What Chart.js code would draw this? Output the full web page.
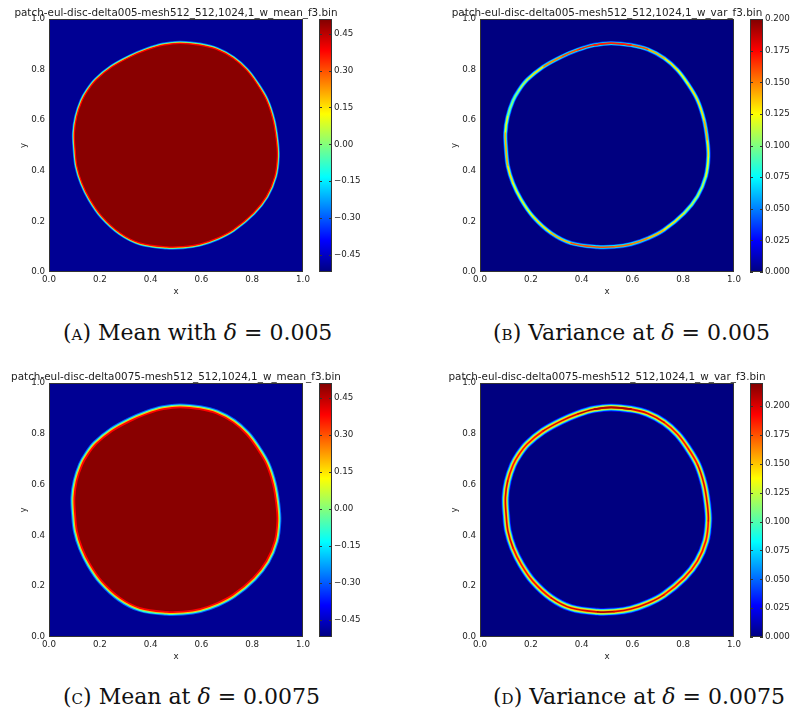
<!DOCTYPE html>
<html>
<head>
<meta charset="utf-8">
<script src="https://cdn.jsdelivr.net/npm/chart.js@4.4.0/dist/chart.umd.min.js"></script>
<style>
  body { margin: 0; background: #fff; width: 793px; height: 716px; position: relative; overflow: hidden; font-family: "DejaVu Sans", sans-serif; }
  canvas { position: absolute; }
  .ttl { position: absolute; font-size: 10.4px; line-height: 12px; color: #222; white-space: nowrap; transform: translateX(-50%); }
  .cap { position: absolute; font-family: "DejaVu Serif", serif; font-size: 22px; line-height: 22px; color: #111; white-space: nowrap; }
  .cap .sc { font-variant: small-caps; }
</style>
</head>
<body>
<script>
// blob boundary (data units), counter-clockwise from the top
const contourX = [0.516, 0.450, 0.385, 0.319, 0.247, 0.186, 0.153, 0.130, 0.109, 0.100, 0.103, 0.110, 0.130, 0.162, 0.208, 0.280,
                  0.359, 0.463, 0.528, 0.594, 0.663, 0.725, 0.804, 0.856, 0.889, 0.899, 0.895, 0.882, 0.856, 0.817, 0.777, 0.725,
                  0.660, 0.594];
const contourY = [0.904, 0.897, 0.878, 0.850, 0.810, 0.760, 0.718, 0.677, 0.614, 0.549, 0.480, 0.417, 0.351, 0.286, 0.220, 0.154,
                  0.114, 0.099, 0.100, 0.110, 0.134, 0.167, 0.233, 0.299, 0.378, 0.457, 0.522, 0.601, 0.680, 0.746, 0.799, 0.845,
                  0.880, 0.897];

// peak variance along the boundary
const varPeakB = [0.17, 0.17, 0.16, 0.15, 0.13, 0.11, 0.10, 0.10, 0.12, 0.14, 0.14, 0.13, 0.12, 0.12, 0.13, 0.14,
                  0.16, 0.16, 0.155, 0.15, 0.14, 0.13, 0.11, 0.11, 0.12, 0.13, 0.14, 0.13, 0.13, 0.12, 0.13, 0.14,
                  0.16, 0.17];
const varPeakD = [0.21, 0.21, 0.20, 0.20, 0.19, 0.19, 0.19, 0.19, 0.20, 0.20, 0.20, 0.20, 0.19, 0.19, 0.19, 0.20,
                  0.20, 0.21, 0.20, 0.20, 0.20, 0.19, 0.19, 0.19, 0.19, 0.20, 0.20, 0.20, 0.19, 0.19, 0.19, 0.20,
                  0.20, 0.21];

const meanOutside = -0.50;
const meanInside = 0.50;
const meanEdge = [-0.30, -0.08, 0.18, 0.38];
const varEdgeB = [0.035, 0.070];
const varEdgeD = [0.030, 0.070, 0.120, 0.150];

const axisTicks = [0.0, 0.2, 0.4, 0.6, 0.8, 1.0];
const meanTicks = [-0.45, -0.30, -0.15, 0.00, 0.15, 0.30, 0.45];
const varTicks = [0.000, 0.025, 0.050, 0.075, 0.100, 0.125, 0.150, 0.175, 0.200];
const meanRange = [-0.52, 0.51];
const varRangeB = [0.0, 0.20];
const varRangeD = [0.0, 0.22];

const titles = [
  'patch-eul-disc-delta005-mesh512_512,1024,1_w_mean_f3.bin',
  'patch-eul-disc-delta005-mesh512_512,1024,1_w_var_f3.bin',
  'patch-eul-disc-delta0075-mesh512_512,1024,1_w_mean_f3.bin',
  'patch-eul-disc-delta0075-mesh512_512,1024,1_w_var_f3.bin'
];
const captions = [
  ['a', 'Mean with'], ['b', 'Variance at'], ['c', 'Mean at'], ['d', 'Variance at']
];
const captionDelta = ['0.005', '0.005', '0.0075', '0.0075'];

const TXT = '#222';
const FONT = { family: 'DejaVu Sans', size: 8.7 };

function jet(t) {
  t = Math.max(0, Math.min(1, t));
  const c = v => Math.round(255 * Math.max(0, Math.min(1, v)));
  return `rgb(${c(1.5 - Math.abs(4 * t - 3))},${c(1.5 - Math.abs(4 * t - 2))},${c(1.5 - Math.abs(4 * t - 1))})`;
}

const wrap = a => [a[a.length - 1], ...a, a[0], a[1]];
const contourData = () => wrap(contourX.map((x, i) => ({ x, y: contourY[i] })));

function ring(color, width, extra) {
  return Object.assign({
    data: contourData(), borderColor: color, borderWidth: width, pointRadius: 0,
    tension: 0.35, fill: false, borderJoinStyle: 'round', borderCapStyle: 'round'
  }, extra || {});
}

const panels = [
  { L: 49, T: 19, R: 303, B: 272, cb: 319, kind: 'mean', widths: [5, 3.6, 2.2, 1.2], range: meanRange, ticks: meanTicks, dig: 2 },
  { L: 480, T: 19, R: 734, B: 272, cb: 750, kind: 'var', edge: varEdgeB, widths: [4.6, 3.2, 1.6], peaks: varPeakB, range: varRangeB, ticks: varTicks, dig: 3 },
  { L: 49, T: 383, R: 303, B: 637, cb: 319, kind: 'mean', widths: [8, 6, 3.8, 1.8], range: meanRange, ticks: meanTicks, dig: 2 },
  { L: 480, T: 383, R: 734, B: 637, cb: 750, kind: 'var', edge: varEdgeD, widths: [8, 6.4, 4.6, 3.0, 1.6], peaks: varPeakD, range: varRangeD, ticks: varTicks, dig: 3 }
];

const fmt = (v, d) => (v < -1e-9 ? '\u2212' : '') + Math.abs(v).toFixed(d);

const framePlugin = {
  id: 'frame',
  beforeDatasetsDraw(chart, args, opts) {
    if (!opts.bg) return;
    const a = chart.chartArea, c = chart.ctx;
    c.save(); c.fillStyle = opts.bg; c.fillRect(a.left, a.top, a.right - a.left, a.bottom - a.top); c.restore();
  },
  afterDraw(chart, args, opts) {
    const a = chart.chartArea, c = chart.ctx;
    c.save();
    c.strokeStyle = '#333'; c.lineWidth = 1;
    c.strokeRect(Math.round(a.left) + 0.5, Math.round(a.top) + 0.5, Math.round(a.right - a.left) - 1, Math.round(a.bottom - a.top) - 1);
    if (opts.cbTicks) {
      const s = chart.scales.y;
      s.ticks.forEach(t => {
        const y = Math.round(s.getPixelForValue(t.value)) + 0.5;
        c.beginPath();
        c.moveTo(a.left, y); c.lineTo(a.left + 3, y);
        c.moveTo(a.right, y); c.lineTo(a.right - 3, y);
        c.stroke();
      });
    }
    c.restore();
  }
};

function addCanvas(left, top, w, h) {
  const cv = document.createElement('canvas');
  cv.width = w; cv.height = h;
  cv.style.left = left + 'px'; cv.style.top = top + 'px';
  cv.style.width = w + 'px'; cv.style.height = h + 'px';
  document.body.appendChild(cv);
  return cv;
}

function makeMain(p) {
  const w = (p.R - p.L) + 49 + 12, h = (p.B - p.T) + 19 + 28;
  const cv = addCanvas(p.L - 49, p.T - 19, w, h);
  const norm = v => (v - p.range[0]) / (p.range[1] - p.range[0]);
  const ds = [];
  let bg;
  if (p.kind === 'mean') {
    bg = jet(norm(meanOutside));
    for (let i = 0; i < 3; i++) ds.push(ring(jet(norm(meanEdge[i])), p.widths[i]));
    ds.push(ring('rgba(0,0,0,0)', 0, { fill: 'shape', backgroundColor: jet(norm(meanInside)) }));
    ds.push(ring(jet(norm(meanEdge[3])), p.widths[3]));
  } else {
    bg = jet(0);
    p.edge.forEach((v, i) => ds.push(ring(jet(norm(v)), p.widths[i])));
    const pk = wrap(p.peaks);
    ds.push(ring(jet(norm(p.peaks[0])), p.widths[p.widths.length - 1], {
      segment: { borderColor: ctx => jet(norm(pk[ctx.p0DataIndex])) }
    }));
  }
  ds.forEach((d, i) => { d.order = ds.length - i; });

  new Chart(cv, {
    type: 'line',
    data: { datasets: ds },
    plugins: [framePlugin],
    options: {
      responsive: false, animation: false, events: [],
      layout: { padding: { top: 19, right: 12, left: 0, bottom: 0 } },
      plugins: { legend: { display: false }, tooltip: { enabled: false }, frame: { bg } },
      scales: {
        x: {
          type: 'linear', min: 0, max: 1,
          afterBuildTicks: s => { s.ticks = axisTicks.map(v => ({ value: v })); },
          afterFit: s => { s.height = 28; },
          grid: { display: false, drawTicks: false }, border: { display: false },
          ticks: { padding: 3, color: TXT, font: FONT, maxRotation: 0, autoSkip: false, callback: v => v.toFixed(1) },
          title: { display: true, text: 'x', color: TXT, font: FONT, padding: { top: 0, bottom: 2.8 } }
        },
        y: {
          type: 'linear', min: 0, max: 1,
          afterBuildTicks: s => { s.ticks = axisTicks.map(v => ({ value: v })); },
          afterFit: s => { s.width = 49; },
          grid: { display: false, drawTicks: false }, border: { display: false },
          ticks: { padding: 4, color: TXT, font: FONT, autoSkip: false, callback: v => v.toFixed(1) },
          title: { display: true, text: 'y', color: TXT, font: FONT, padding: { top: 18.8, bottom: 0 } }
        }
      }
    }
  });
}

function makeBar(p) {
  const h = (p.B - p.T) + 19 + 28;
  const cv = addCanvas(p.cb, p.T - 19, 58, h);
  const lo = p.range[0], hi = p.range[1];
  new Chart(cv, {
    type: 'bar',
    data: {
      labels: [''],
      datasets: [{
        data: [[lo, hi]], barPercentage: 1, categoryPercentage: 1, borderWidth: 0,
        backgroundColor: ctx => {
          const a = ctx.chart.chartArea;
          if (!a) return 'rgba(0,0,0,0)';
          const g = ctx.chart.ctx.createLinearGradient(0, a.bottom, 0, a.top);
          [0, 0.125, 0.375, 0.625, 0.875, 1].forEach(t => g.addColorStop(t, jet(t)));
          return g;
        }
      }]
    },
    plugins: [framePlugin],
    options: {
      responsive: false, animation: false, events: [],
      layout: { padding: { top: 19, bottom: 28, left: 0, right: 0 } },
      plugins: { legend: { display: false }, tooltip: { enabled: false }, frame: { cbTicks: true } },
      scales: {
        x: { display: false },
        y: {
          position: 'right', min: lo, max: hi,
          afterBuildTicks: s => { s.ticks = p.ticks.filter(v => v <= hi + 1e-9).map(v => ({ value: v })); },
          afterFit: s => { s.width = 45; },
          grid: { drawOnChartArea: false, drawTicks: false }, border: { display: false },
          ticks: { padding: 2, color: TXT, font: FONT, autoSkip: false, callback: v => fmt(v, p.dig) }
        }
      }
    }
  });
}

panels.forEach((p, i) => {
  makeMain(p);
  makeBar(p);
  const t = document.createElement('div');
  t.className = 'ttl';
  t.textContent = titles[i];
  t.style.left = ((p.L + p.R) / 2) + 'px';
  t.style.top = (p.T - 13) + 'px';
  document.body.appendChild(t);
  const c = document.createElement('div');
  c.className = 'cap';
  c.innerHTML = '(<span class="sc">' + captions[i][0] + '</span>) ' + captions[i][1] + ' <i>\u03b4</i> = ' + captionDelta[i];
  c.style.left = (i % 2 === 0 ? 63 : 493) + 'px';
  c.style.top = (i < 2 ? 322 : 686) + 'px';
  document.body.appendChild(c);
});
</script>
</body>
</html>
